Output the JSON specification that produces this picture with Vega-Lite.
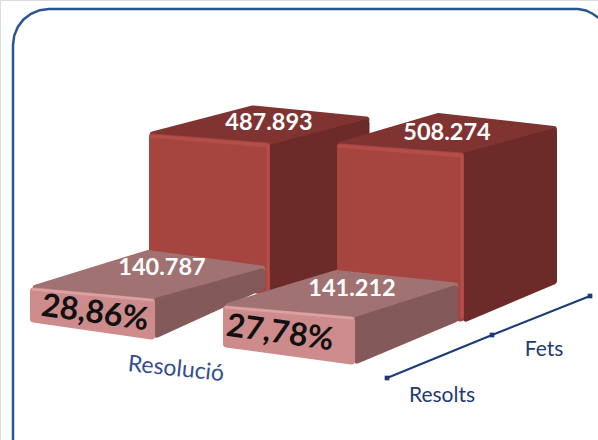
{
"$schema":"https://vega.github.io/schema/vega-lite/v6.json",
"width":598,"height":440,
"autosize":{"type":"fit","contains":"padding"},
"padding":0,
"background":"white",
"datasets":{
"frame":[{"o":0,"x":13,"y":445},{"o":1,"x":13,"y":45},{"o":2,"x":14.2,"y":35.7},{"o":3,"x":17.8,"y":27},{"o":4,"x":23.5,"y":19.5},{"o":5,"x":31,"y":13.8},{"o":6,"x":39.7,"y":10.2},{"o":7,"x":49,"y":9},{"o":8,"x":578,"y":9},{"o":9,"x":586,"y":10.5},{"o":10,"x":593,"y":14},{"o":11,"x":600,"y":19}],
"faces":[
{"f":"a1","k":"top","o":0,"x":153,"y":135},{"f":"a1","k":"top","o":1,"x":253,"y":109},{"f":"a1","k":"top","o":2,"x":366,"y":120},{"f":"a1","k":"top","o":3,"x":270,"y":143},
{"f":"a2","k":"side","o":0,"x":272,"y":148},{"f":"a2","k":"side","o":1,"x":366,"y":123},{"f":"a2","k":"side","o":2,"x":366,"y":290},{"f":"a2","k":"side","o":3,"x":272,"y":318},
{"f":"a3","k":"front","o":0,"x":152.5,"y":137},{"f":"a3","k":"front","o":1,"x":266.5,"y":146},{"f":"a3","k":"front","o":2,"x":266.5,"y":292},{"f":"a3","k":"front","o":3,"x":152.5,"y":268},
{"f":"a4","k":"edge","o":0,"x":150,"y":135},{"f":"a4","k":"edge","o":1,"x":268,"y":144},{"f":"a4","k":"edge","o":2,"x":269,"y":146},{"f":"a4","k":"edge","o":3,"x":269,"y":292},{"f":"a4","k":"edge","o":4,"x":267,"y":292},{"f":"a4","k":"edge","o":5,"x":267,"y":147},{"f":"a4","k":"edge","o":6,"x":150,"y":137},
{"f":"b1","k":"top","o":0,"x":341,"y":145},{"f":"b1","k":"top","o":1,"x":438,"y":116.5},{"f":"b1","k":"top","o":2,"x":553.5,"y":129.5},{"f":"b1","k":"top","o":3,"x":462,"y":152},
{"f":"b2","k":"side","o":0,"x":466,"y":156},{"f":"b2","k":"side","o":1,"x":553.5,"y":132},{"f":"b2","k":"side","o":2,"x":553.5,"y":281},{"f":"b2","k":"side","o":3,"x":466,"y":318},
{"f":"b3","k":"front","o":0,"x":340.5,"y":147},{"f":"b3","k":"front","o":1,"x":460.5,"y":156},{"f":"b3","k":"front","o":2,"x":460.5,"y":318},{"f":"b3","k":"front","o":3,"x":340.5,"y":300},
{"f":"b4","k":"edge","o":0,"x":338,"y":145},{"f":"b4","k":"edge","o":1,"x":462,"y":154},{"f":"b4","k":"edge","o":2,"x":463,"y":156},{"f":"b4","k":"edge","o":3,"x":463,"y":318},{"f":"b4","k":"edge","o":4,"x":461,"y":318},{"f":"b4","k":"edge","o":5,"x":461,"y":157},{"f":"b4","k":"edge","o":6,"x":338,"y":147},
{"f":"c1","k":"topSmall","o":0,"x":36,"y":288},{"f":"c1","k":"topSmall","o":1,"x":148,"y":253.5},{"f":"c1","k":"topSmall","o":2,"x":261.5,"y":269},{"f":"c1","k":"topSmall","o":3,"x":155,"y":297},
{"f":"c2","k":"sideSmall","o":0,"x":157,"y":301},{"f":"c2","k":"sideSmall","o":1,"x":261.5,"y":272},{"f":"c2","k":"sideSmall","o":2,"x":261.5,"y":286.5},{"f":"c2","k":"sideSmall","o":3,"x":157,"y":334},
{"f":"c3","k":"frontSmall","o":0,"x":33.5,"y":291},{"f":"c3","k":"frontSmall","o":1,"x":151.5,"y":302},{"f":"c3","k":"frontSmall","o":2,"x":151.5,"y":336},{"f":"c3","k":"frontSmall","o":3,"x":33.5,"y":319},
{"f":"c4","k":"edgeSmall","o":0,"x":32,"y":288.5},{"f":"c4","k":"edgeSmall","o":1,"x":153,"y":299.5},{"f":"c4","k":"edgeSmall","o":2,"x":153,"y":301},{"f":"c4","k":"edgeSmall","o":3,"x":32,"y":290},
{"f":"d1","k":"topSmall","o":0,"x":229,"y":306},{"f":"d1","k":"topSmall","o":1,"x":336,"y":273.5},{"f":"d1","k":"topSmall","o":2,"x":454.5,"y":286},{"f":"d1","k":"topSmall","o":3,"x":355,"y":316},
{"f":"d2","k":"sideSmall","o":0,"x":357,"y":320},{"f":"d2","k":"sideSmall","o":1,"x":454.5,"y":289},{"f":"d2","k":"sideSmall","o":2,"x":454.5,"y":319},{"f":"d2","k":"sideSmall","o":3,"x":357,"y":360},
{"f":"d3","k":"frontSmall","o":0,"x":226.5,"y":309},{"f":"d3","k":"frontSmall","o":1,"x":351.5,"y":320},{"f":"d3","k":"frontSmall","o":2,"x":351.5,"y":361},{"f":"d3","k":"frontSmall","o":3,"x":226.5,"y":344},
{"f":"d4","k":"edgeSmall","o":0,"x":225,"y":306.5},{"f":"d4","k":"edgeSmall","o":1,"x":353,"y":317.5},{"f":"d4","k":"edgeSmall","o":2,"x":353,"y":319},{"f":"d4","k":"edgeSmall","o":3,"x":225,"y":308}
],
"axis":[{"o":0,"x":387,"y":378},{"o":1,"x":492,"y":335},{"o":2,"x":590,"y":296}],
"values":[{"label":"487.893","x":269,"y":123},{"label":"508.274","x":447,"y":133},{"label":"140.787","x":162,"y":268},{"label":"141.212","x":352,"y":289}],
"shares":[{"label":"28,86%","x":95,"y":313},{"label":"27,78%","x":280,"y":333}],
"cats":[{"label":"Resolts","x":442,"y":396},{"label":"Fets","x":544,"y":350}],
"title":[{"label":"Resolució","x":176,"y":369}]
},
"encoding":{
"x":{"field":"x","type":"quantitative","axis":null,"scale":{"domain":[0,598],"nice":false,"zero":false}},
"y":{"field":"y","type":"quantitative","axis":null,"scale":{"domain":[440,0],"nice":false,"zero":false}}
},
"layer":[
{"data":{"name":"frame"},"mark":{"type":"line","color":"#2b5590","strokeWidth":2.5,"clip":true},"encoding":{"order":{"field":"o","type":"quantitative"}}},
{"data":{"name":"faces"},"mark":{"type":"line","interpolate":"linear-closed","strokeJoin":"round"},
"encoding":{"order":{"field":"o","type":"quantitative"},"detail":{"field":"f"},
"fill":{"field":"k","type":"nominal","legend":null,"scale":{"domain":["top","side","front","edge","topSmall","sideSmall","frontSmall","edgeSmall"],"range":["#803432","#6c2b28","#a6443f","#b34e49","#a07272","#83595a","#cd8b8c","#dca3a3"]}},
"stroke":{"field":"k","type":"nominal","legend":null,"scale":{"domain":["top","side","front","edge","topSmall","sideSmall","frontSmall","edgeSmall"],"range":["#803432","#6c2b28","#a6443f","#b34e49","#a07272","#83595a","#cd8b8c","#dca3a3"]}},
"strokeWidth":{"condition":{"test":"indexof(['edge','edgeSmall'],datum.k)>=0","value":1},"value":7}}},
{"data":{"name":"axis"},"mark":{"type":"line","color":"#1b3a78","strokeWidth":2},"encoding":{"order":{"field":"o","type":"quantitative"}}},
{"data":{"name":"axis"},"mark":{"type":"point","shape":"square","filled":true,"color":"#1b3a78","size":22,"opacity":1}},
{"data":{"name":"values"},"mark":{"type":"text","font":"Lato","fontWeight":"bold","fontSize":23.5,"color":"white","align":"center","baseline":"middle"},"encoding":{"text":{"field":"label"}}},
{"data":{"name":"shares"},"mark":{"type":"text","font":"Lato","fontWeight":"bold","fontSize":32,"color":"#111111","align":"center","baseline":"middle","angle":8},"encoding":{"text":{"field":"label"}}},
{"data":{"name":"cats"},"mark":{"type":"text","font":"Lato","fontSize":21,"color":"#1f3b73","align":"center","baseline":"middle"},"encoding":{"text":{"field":"label"}}},
{"data":{"name":"title"},"mark":{"type":"text","font":"Lato","fontSize":23,"color":"#34508a","align":"center","baseline":"middle","angle":6},"encoding":{"text":{"field":"label"}}}
]
}
